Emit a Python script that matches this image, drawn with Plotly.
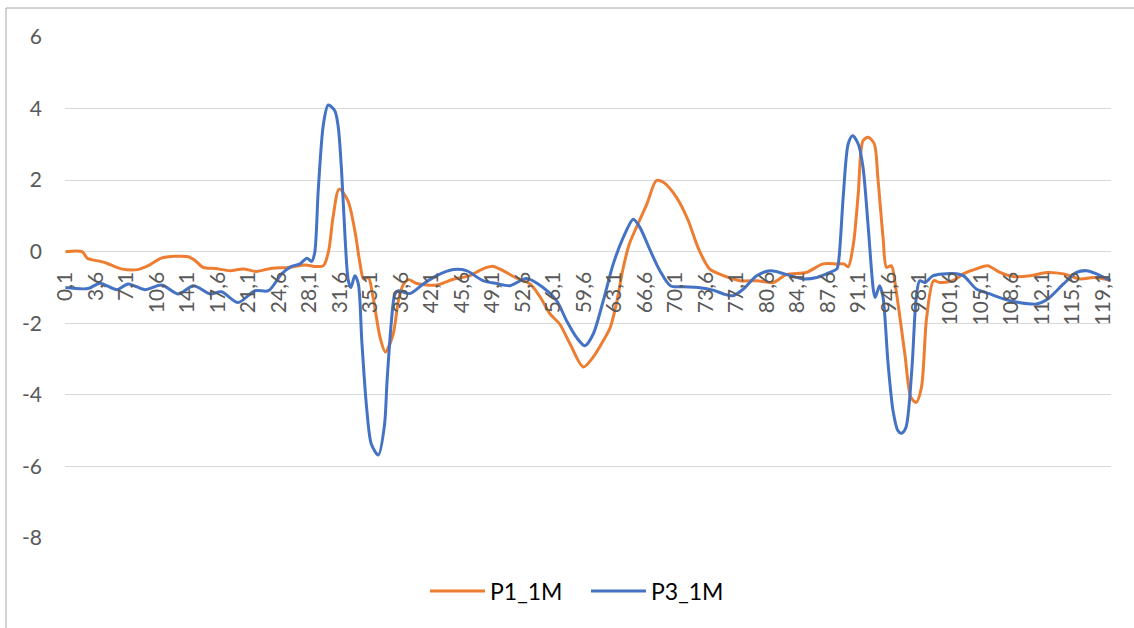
import plotly.graph_objects as go

# Time axis (s) and readings for each probe
p1_x = [0.1, 2.0, 2.6, 3.1, 4.6, 6.5, 8.4, 9.6, 11.1, 12.7, 14.2, 15.0, 15.9, 17.3, 19.0,
        20.5, 22.0, 23.8, 25.7, 27.6, 28.7, 29.7, 30.3, 30.8, 31.5, 32.5, 33.3, 33.9, 34.3,
        34.85, 35.4, 36.2, 36.8, 37.7, 38.3, 38.9, 39.5, 40.4, 42.7, 44.6, 46.5, 48.0, 49.2,
        50.3, 51.9, 53.4, 54.6, 55.7, 56.8, 58.0, 59.5, 60.6, 61.8, 62.6, 63.3, 64.1, 64.8,
        65.6, 66.8, 67.9, 68.7, 70.2, 71.5, 72.7, 74.0, 75.6, 77.5, 79.4, 81.3, 82.8, 85.1,
        87.0, 88.6, 89.4, 89.9, 90.5, 91.05, 91.6, 92.2, 92.9, 93.3, 93.9, 94.3, 94.85, 95.4,
        96.4, 97.1, 97.7, 98.3, 98.9, 99.7, 100.4, 101.9, 103.1, 104.6, 105.9, 107.3, 108.8,
        110.8, 112.7, 114.6, 116.5, 118.0, 119.6, 120.0]
p1_y = [0.0, 0.0, -0.18, -0.22, -0.3, -0.48, -0.5, -0.39, -0.18, -0.13, -0.14, -0.25, -0.44,
        -0.47, -0.53, -0.48, -0.55, -0.46, -0.44, -0.37, -0.41, -0.39, 0.03, 0.96, 1.75, 1.43,
        0.59, -0.34, -0.76, -0.72, -1.28, -2.4, -2.8, -2.3, -1.37, -0.9, -0.78, -0.89, -0.93,
        -0.77, -0.67, -0.48, -0.41, -0.53, -0.74, -0.9, -1.28, -1.74, -2.02, -2.58, -3.22,
        -2.96, -2.49, -2.12, -1.46, -0.44, 0.22, 0.68, 1.33, 1.99, 1.94, 1.52, 0.9, 0.1, -0.48,
        -0.67, -0.81, -0.81, -0.86, -0.64, -0.58, -0.34, -0.34, -0.34, -0.42, 0.22, 1.61, 3.1,
        3.2, 3.01, 2.08, 0.4, -0.44, -0.39, -1.09, -2.86, -4.07, -4.21, -3.8, -1.84, -0.81,
        -0.86, -0.81, -0.62, -0.48, -0.39, -0.58, -0.69, -0.67, -0.58, -0.62, -0.76, -0.72,
        -0.78, -0.81]

p3_x = [0.1, 2.7, 4.05, 6.0, 7.3, 9.2, 11.15, 13.05, 14.8, 16.7, 18.0, 19.9, 21.85, 23.4,
        24.9, 26.05, 27.0, 27.8, 28.35, 28.7, 29.1, 29.7, 30.25, 31.0, 31.4, 31.8, 32.2, 32.55,
        32.85, 33.3, 33.7, 34.1, 34.65, 35.2, 36.0, 36.7, 37.0, 37.5, 37.9, 38.3, 39.6, 41.15,
        42.7, 44.6, 46.1, 48.0, 49.6, 51.1, 53.0, 54.9, 56.45, 57.6, 58.75, 59.7, 60.65, 61.8,
        62.95, 64.1, 65.25, 66.0, 67.2, 68.3, 69.5, 71.0, 72.7, 74.5, 75.6, 76.7, 77.9, 79.4,
        81.0, 83.3, 84.75, 86.3, 87.8, 88.6, 88.85, 89.35, 89.9, 90.4, 91.05, 91.6, 92.2, 92.8,
        93.0, 93.5, 93.9, 94.45, 95.05, 95.6, 96.0, 96.5, 97.2, 97.7, 98.1, 98.7, 99.65, 101.9,
        103.1, 104.6, 106.15, 108.0, 109.5, 111.5, 112.8, 114.6, 116.1, 117.25, 118.4, 120.0]
p3_y = [-1.0, -1.03, -0.88, -1.06, -0.9, -1.06, -0.93, -1.18, -0.95, -1.18, -1.12, -1.42,
        -1.09, -1.09, -0.62, -0.41, -0.34, -0.18, -0.27, -0.02, 1.71, 3.57, 4.1, 3.94, 3.48,
        2.17, 0.31, -0.81, -1.0, -0.67, -0.9, -2.49, -4.35, -5.38, -5.68, -4.85, -3.6, -1.93,
        -1.18, -1.09, -1.17, -0.9, -0.67, -0.5, -0.53, -0.81, -0.89, -0.95, -0.75, -1.0, -1.37,
        -1.93, -2.4, -2.63, -2.3, -1.37, -0.34, 0.4, 0.91, 0.68, 0.03, -0.53, -0.95, -0.98,
        -1.0, -1.08, -1.18, -1.23, -1.04, -0.67, -0.53, -0.67, -0.76, -0.72, -0.58, -0.48,
        -0.16, 1.61, 3.01, 3.24, 3.01, 2.36, 0.68, -1.09, -1.28, -0.95, -1.28, -3.05, -4.45,
        -5.0, -5.07, -4.93, -3.3, -1.3, -0.81, -0.86, -0.67, -0.61, -0.67, -1.04, -1.18, -1.34,
        -1.42, -1.46, -1.32, -0.9, -0.58, -0.53, -0.62, -0.81]

assert len(p1_x) == len(p1_y) and len(p3_x) == len(p3_y)

x_tick_vals = [0.1, 3.6, 7.1, 10.6, 14.1, 17.6, 21.1, 24.6, 28.1, 31.6, 35.1, 38.6, 42.1,
               45.6, 49.1, 52.6, 56.1, 59.6, 63.1, 66.6, 70.1, 73.6, 77.1, 80.6, 84.1, 87.6,
               91.1, 94.6, 98.1, 101.6, 105.1, 108.6, 112.1, 115.6, 119.1]
x_tick_text = ["0,1", "3,6", "7,1", "10,6", "14,1", "17,6", "21,1", "24,6", "28,1", "31,6",
               "35,1", "38,6", "42,1", "45,6", "49,1", "52,6", "56,1", "59,6", "63,1", "66,6",
               "70,1", "73,6", "77,1", "80,6", "84,1", "87,6", "91,1", "94,6", "98,1", "101,6",
               "105,1", "108,6", "112,1", "115,6", "119,1"]
y_tick_vals = [-8, -6, -4, -2, 0, 2, 4, 6]
y_tick_text = ["-8", "-6", "-4", "-2", "0", "2", "4", "6"]

ORANGE = "#ED7D31"
BLUE = "#4472C4"
TEXT = "#595959"
FONT = "Lato, Carlito, Calibri, sans-serif"

Y_MIN, Y_MAX = -8, 6

fig = go.Figure()
fig.add_trace(go.Scatter(x=p1_x, y=p1_y, name="P1_1M", mode="lines",
                         line=dict(color=ORANGE, width=3, shape="spline", smoothing=0.8)))
fig.add_trace(go.Scatter(x=p3_x, y=p3_y, name="P3_1M", mode="lines",
                         line=dict(color=BLUE, width=3, shape="spline", smoothing=0.8)))

fig.update_layout(
    width=1134, height=628,
    margin=dict(l=65, r=23, t=37, b=90),
    paper_bgcolor="white", plot_bgcolor="white",
    font=dict(family=FONT, color=TEXT, size=21),
    showlegend=True,
    legend=dict(orientation="h", x=(430 - 65 - 5) / 1046, xanchor="left",
                y=-0.106, yanchor="middle",
                font=dict(size=23, color="#000000"), itemwidth=55,
                entrywidth=91, entrywidthmode="pixels",
                bgcolor="rgba(0,0,0,0)"),
    xaxis=dict(
        type="linear", range=[0.05, 120.05],
        tickmode="array", tickvals=x_tick_vals, ticktext=x_tick_text,
        tickangle=-90, ticks="", ticklabelstandoff=15,
        showgrid=False, zeroline=False, showline=False,
        anchor="free", position=(0 - Y_MIN) / (Y_MAX - Y_MIN),
        tickfont=dict(size=21, color=TEXT),
    ),
    yaxis=dict(
        range=[Y_MIN, Y_MAX], tickmode="array", tickvals=y_tick_vals, ticktext=y_tick_text,
        showgrid=True, gridcolor="#d9d9d9", gridwidth=1.3,
        zeroline=False, showline=False, ticks="", ticklabelstandoff=22,
        tickfont=dict(size=21, color=TEXT),
    ),
)

# Chart-area outline
fig.add_shape(type="rect", xref="paper", yref="paper",
              x0=(6 - 65) / 1046, x1=1.2, y0=-0.5, y1=1 + (37 - 8) / 501,
              line=dict(color="#a6a6a6", width=1), fillcolor="rgba(0,0,0,0)", layer="below")

fig.write_html("out.html")
